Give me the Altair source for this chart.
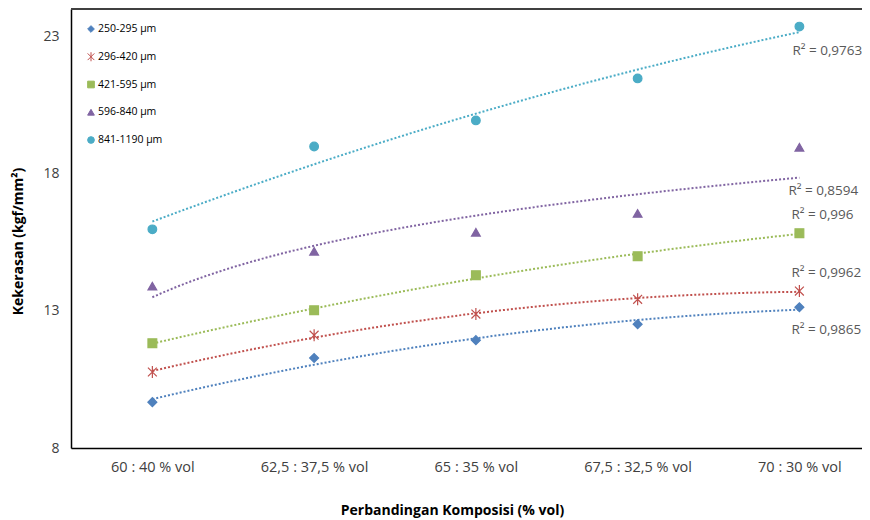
import json
import altair as alt
import pandas as pd

# ---- data ----
categories = ["60 : 40 % vol", "62,5 : 37,5 % vol", "65 : 35 % vol",
              "67,5 : 32,5 % vol", "70 : 30 % vol"]
series_names = ["250-295 µm", "296-420 µm", "421-595 µm", "596-840 µm", "841-1190 µm"]
s250 = [9.67, 11.28, 11.93, 12.51, 13.13]
s296 = [10.77, 12.11, 12.88, 13.42, 13.72]
s421 = [11.82, 13.02, 14.30, 14.99, 15.83]
s596 = [13.90, 15.17, 15.86, 16.55, 18.96]
s841 = [15.97, 18.99, 19.94, 21.47, 23.36]
r2_labels = ["R² = 0,9865", "R² = 0,9962", "R² = 0,996", "R² = 0,8594", "R² = 0,9763"]
trend_methods = ["poly", "poly", "poly", "log", "poly"]
y_ticks = [8, 13, 18, 23]

# ---- styles ----
colors = ["#4F81BD", "#C0504D", "#9BBB59", "#8064A2", "#4BACC6"]
asterisk = "M-1,-1L1,1M-1,1L1,-1M0,-1.35L0,1.35"
shapes = ["diamond", asterisk, "square", "triangle-up", "circle"]
sizes = [80, 75, 90, 100, 100]
label_offsets = [(-8, 23), (-8, -18), (-8, -18), (-11, 44), (-7, 24)]
FONT = "Open Sans"
W, H = 791, 439

all_series = [s250, s296, s421, s596, s841]
rows = []
for name, vals, lab in zip(series_names, all_series, r2_labels):
    for i, v in enumerate(vals):
        rows.append({"series": name, "idx": i + 1, "value": v, "r2": lab})
df = pd.DataFrame(rows)
legend_df = pd.DataFrame({"series": series_names})

label_expr = json.dumps(categories) + "[datum.value - 1]"

color_scale = alt.Scale(domain=series_names, range=colors)
shape_scale = alt.Scale(domain=series_names, range=shapes)
x_enc = alt.X("idx:Q",
              scale=alt.Scale(domain=[0.497, 5.387], nice=False, zero=False),
              axis=alt.Axis(values=[1, 2, 3, 4, 5], labelExpr=label_expr,
                            title="Perbandingan Komposisi (% vol)",
                            grid=False, ticks=False, domainColor="black",
                            domainWidth=1.5, labelFont=FONT, labelFontSize=14.5,
                            labelColor="#404040", labelPadding=12, labelFlush=False,
                            titleFont=FONT, titleFontSize=14, titleFontWeight="bold",
                            titleColor="black", titleX=381, titleY=62,
                            titleBaseline="middle"))
y_scale = alt.Scale(domain=[8, 24], nice=False, zero=False)
y_enc = alt.Y("value:Q", scale=y_scale,
              axis=alt.Axis(values=y_ticks, title="Kekerasan (kgf/mm²)",
                            grid=False, ticks=False, domainColor="black",
                            domainWidth=1.5, labelFont=FONT, labelFontSize=14,
                            labelColor="#404040", labelPadding=12,
                            titleFont=FONT, titleFontSize=14, titleFontWeight="bold",
                            titleColor="black", titleX=-53, titleY=232,
                            titleBaseline="middle"))
y_plain = alt.Y("value:Q", scale=y_scale, axis=None)

base = alt.Chart(df)

# trendlines (Excel-style: 2nd-order polynomial, logarithmic for one series)
trends = []
for name, method, col in zip(series_names, trend_methods, colors):
    kw = {"order": 2} if method == "poly" else {}
    trends.append(
        base.transform_filter(alt.datum.series == name)
        .transform_regression("idx", "value", method=method, **kw)
        .mark_line(strokeDash=[2, 2], strokeWidth=2, strokeCap="butt", color=col)
        .encode(x=x_enc, y=y_plain)
    )

points = base.mark_point(filled=True, strokeWidth=1.2, opacity=1).encode(
    x=x_enc, y=y_enc,
    fill=alt.Fill("series:N", scale=color_scale, legend=None),
    stroke=alt.Stroke("series:N", scale=color_scale, legend=None),
    shape=alt.Shape("series:N", scale=shape_scale, legend=None),
    size=alt.Size("series:N", scale=alt.Scale(domain=series_names, range=sizes), legend=None),
)

labels = []
for name, (dx, dy) in zip(series_names, label_offsets):
    labels.append(
        base.transform_filter(
            (alt.datum.series == name) & (alt.datum.idx == 5)
        ).mark_text(align="left", baseline="middle", dx=dx, dy=dy,
                    font=FONT, fontSize=13.5, color="#595959").encode(
            x=x_enc, y=y_plain, text="r2:N")
    )

# legend drawn inside the plot, top-left
leg_y = alt.Y("series:N", sort=series_names,
              scale=alt.Scale(type="point", domain=series_names, range=[20, 131], padding=0),
              axis=None)
leg_sym = alt.Chart(legend_df).mark_point(filled=True, size=45, strokeWidth=1, opacity=1).encode(
    x=alt.value(20), y=leg_y,
    fill=alt.Fill("series:N", scale=color_scale, legend=None),
    stroke=alt.Stroke("series:N", scale=color_scale, legend=None),
    shape=alt.Shape("series:N", scale=shape_scale, legend=None),
)
leg_txt = alt.Chart(legend_df).mark_text(
    align="left", baseline="middle", font=FONT, fontSize=10.5, color="black"
).encode(x=alt.value(27), y=leg_y, text="series:N")

frame_top = alt.Chart(df).mark_rule(color="#404040", strokeWidth=1.5).encode(
    x=alt.value(0), x2=alt.value(W), y=alt.value(0))

chart = alt.layer(*trends, points, *labels, leg_sym, leg_txt, frame_top).resolve_scale(
    y="independent"
).properties(
    width=W, height=H,
    autosize=alt.AutoSizeParams(type="none"),
    padding={"left": 63, "top": 1, "right": 0, "bottom": 72},
).configure_view(stroke=None).configure(background="white")

chart.save("out.html", embed_options={"renderer": "svg", "actions": False})
